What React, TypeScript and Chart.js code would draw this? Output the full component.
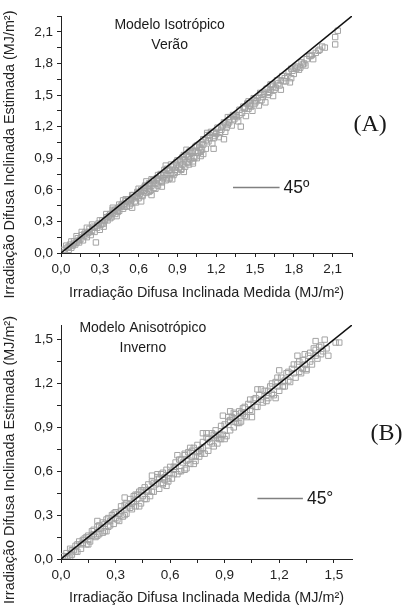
import React, { useEffect, useRef } from "react";
import { Chart, registerables } from "chart.js";

Chart.register(...registerables);

// ---------- DATA ----------
// Panel A: Modelo Isotrópico – Verão (measured x, estimated y), MJ/m²
const measuredA = [
  0.02, 0.03, 0.05, 0.06, 0.07, 0.08, 0.09, 0.10, 0.11, 0.12,
  0.13, 0.14, 0.15, 0.16, 0.17, 0.18, 0.19, 0.20, 0.21, 0.22,
  0.23, 0.24, 0.25, 0.26, 0.27, 0.28, 0.29, 0.30, 0.31, 0.32,
  0.33, 0.34, 0.35, 0.36, 0.37, 0.38, 0.39, 0.40, 0.41, 0.42,
  0.43, 0.44, 0.45, 0.46, 0.47, 0.48, 0.49, 0.50, 0.51, 0.52,
  0.53, 0.54, 0.55, 0.56, 0.57, 0.58, 0.59, 0.60, 0.61, 0.62,
  0.63, 0.64, 0.65, 0.66, 0.67, 0.68, 0.69, 0.70, 0.71, 0.72,
  0.73, 0.74, 0.75, 0.76, 0.77, 0.78, 0.79, 0.80, 0.81, 0.82,
  0.83, 0.84, 0.85, 0.86, 0.87, 0.88, 0.89, 0.90, 0.91, 0.92,
  0.93, 0.94, 0.95, 0.96, 0.97, 0.98, 0.99, 1.00, 1.01, 1.02,
  1.03, 1.04, 1.05, 1.06, 1.07, 1.08, 1.09, 1.10, 1.12, 1.14,
  1.15, 1.17, 1.19, 1.20, 1.22, 1.24, 1.25, 1.27, 1.29, 1.30,
  1.32, 1.34, 1.35, 1.37, 1.39, 1.40, 1.42, 1.43, 1.45, 1.46,
  1.48, 1.50, 1.52, 1.53, 1.55, 1.57, 1.58, 1.60, 1.62, 1.64,
  1.66, 1.68, 1.70, 1.72, 1.75, 1.77, 1.80, 1.82, 1.85, 1.88,
  1.90, 1.93, 1.97, 2.00, 2.04, 2.12, 2.12, 2.14, 0.04, 0.08,
  0.12, 0.16, 0.20, 0.24, 0.30, 0.35, 0.40, 0.45, 0.50, 0.55,
  0.60, 0.65, 0.70, 0.75, 0.80, 0.85, 0.90, 0.95, 1.00, 1.05,
  1.10, 1.13, 1.16, 1.18, 1.21, 1.23, 1.26, 1.28, 1.31, 1.33,
  1.36, 1.38, 1.41, 1.44, 1.47, 1.49, 1.51, 1.54, 1.56, 1.59,
  1.61, 1.63, 1.65, 1.67, 1.69, 1.71, 1.74, 1.76, 1.78, 1.81,
  1.84, 1.86, 1.89, 1.92, 1.95, 1.99, 0.33, 0.43, 0.53, 0.63,
  0.73, 0.83, 0.93, 1.03, 0.58, 0.68, 0.78, 0.88, 0.98, 1.08,
  0.06, 0.10, 0.14, 0.18, 0.22, 0.26, 0.28, 0.32, 0.36, 0.38,
  0.42, 0.44, 0.47, 0.49, 0.52, 0.54, 0.57, 0.59, 0.62, 0.64,
  0.67, 0.69, 0.72, 0.74, 0.77, 0.79, 0.82, 0.84, 0.87, 0.89,
  0.92, 0.94, 0.97, 0.99, 1.02, 1.04, 1.07, 1.09, 1.12, 1.15,
  1.18, 1.20, 1.24, 1.27, 1.30, 1.34, 1.38, 1.42, 1.46, 1.50,
  1.55, 1.60, 1.64, 1.70, 1.73, 1.79, 1.83, 1.87, 1.94, 2.02,
  0.55, 0.62, 0.70, 0.78, 0.86, 0.95, 1.02, 1.10, 1.18, 1.26,
  0.40, 0.48, 0.66, 0.81, 0.97, 1.13, 1.29, 1.45, 1.62, 1.78,
];
const estimatedA = [
  0.03, 0.01, 0.05, 0.03, 0.08, 0.05, 0.07, 0.11, 0.08, 0.10,
  0.14, 0.10, 0.13, 0.17, 0.12, 0.16, 0.20, 0.15, 0.19, 0.23,
  0.17, 0.21, 0.25, 0.20, 0.10, 0.24, 0.28, 0.22, 0.27, 0.31,
  0.28, 0.31, 0.34, 0.31, 0.35, 0.37, 0.34, 0.38, 0.40, 0.37,
  0.40, 0.43, 0.40, 0.44, 0.46, 0.42, 0.47, 0.49, 0.44, 0.49,
  0.51, 0.47, 0.51, 0.55, 0.49, 0.54, 0.57, 0.52, 0.56, 0.60,
  0.54, 0.59, 0.62, 0.57, 0.61, 0.66, 0.59, 0.64, 0.69, 0.62,
  0.66, 0.71, 0.64, 0.68, 0.74, 0.67, 0.71, 0.76, 0.69, 0.74,
  0.78, 0.71, 0.76, 0.82, 0.74, 0.79, 0.84, 0.77, 0.81, 0.87,
  0.79, 0.84, 0.89, 0.82, 0.86, 0.92, 0.84, 0.89, 0.95, 0.87,
  0.91, 0.97, 0.90, 0.95, 1.00, 0.92, 0.98, 1.03, 0.99, 1.06,
  1.09, 1.04, 1.11, 1.15, 1.10, 1.17, 1.21, 1.15, 1.22, 1.26,
  1.21, 1.27, 1.31, 1.25, 1.20, 1.33, 1.38, 1.30, 1.37, 1.42,
  1.35, 1.42, 1.47, 1.40, 1.45, 1.51, 1.43, 1.50, 1.55, 1.49,
  1.57, 1.61, 1.55, 1.63, 1.68, 1.62, 1.70, 1.75, 1.76, 1.80,
  1.84, 1.87, 1.90, 1.93, 1.95, 1.98, 2.05, 2.11, 0.07, 0.11,
  0.16, 0.20, 0.24, 0.27, 0.31, 0.37, 0.41, 0.46, 0.51, 0.55,
  0.61, 0.64, 0.70, 0.74, 0.79, 0.84, 0.88, 0.93, 0.97, 1.02,
  1.08, 1.12, 1.15, 1.09, 1.19, 1.14, 1.24, 1.19, 1.29, 1.31,
  1.29, 1.36, 1.39, 1.42, 1.39, 1.47, 1.44, 1.52, 1.48, 1.56,
  1.52, 1.60, 1.55, 1.64, 1.59, 1.68, 1.63, 1.72, 1.66, 1.76,
  1.74, 1.81, 1.78, 1.87, 1.84, 1.92, 0.25, 0.35, 0.45, 0.55,
  0.61, 0.70, 0.80, 0.90, 0.48, 0.58, 0.68, 0.76, 0.86, 0.96,
  0.06, 0.09, 0.12, 0.18, 0.20, 0.24, 0.26, 0.28, 0.34, 0.33,
  0.41, 0.39, 0.45, 0.44, 0.51, 0.50, 0.53, 0.58, 0.58, 0.62,
  0.64, 0.66, 0.69, 0.70, 0.75, 0.74, 0.80, 0.79, 0.83, 0.86,
  0.88, 0.91, 0.93, 0.96, 0.97, 1.01, 1.03, 1.05, 1.07, 1.12,
  1.14, 1.13, 1.20, 1.23, 1.24, 1.30, 1.31, 1.37, 1.40, 1.45,
  1.50, 1.53, 1.58, 1.64, 1.66, 1.73, 1.77, 1.79, 1.88, 1.96,
  0.43, 0.49, 0.55, 0.63, 0.70, 0.77, 0.85, 0.94, 0.99, 1.08,
  0.43, 0.50, 0.68, 0.83, 0.98, 1.14, 1.29, 1.44, 1.60, 1.75,
];

// Panel B: Modelo Anisotrópico – Inverno (measured x, estimated y), MJ/m²
const measuredB = [
  0.01, 0.02, 0.03, 0.04, 0.05, 0.06, 0.07, 0.08, 0.09, 0.10,
  0.11, 0.12, 0.13, 0.14, 0.15, 0.16, 0.17, 0.18, 0.19, 0.20,
  0.21, 0.22, 0.23, 0.24, 0.25, 0.26, 0.27, 0.28, 0.29, 0.30,
  0.31, 0.32, 0.33, 0.34, 0.35, 0.36, 0.37, 0.38, 0.39, 0.40,
  0.41, 0.42, 0.43, 0.44, 0.45, 0.46, 0.47, 0.48, 0.49, 0.50,
  0.51, 0.52, 0.53, 0.54, 0.55, 0.56, 0.57, 0.58, 0.59, 0.60,
  0.61, 0.62, 0.63, 0.64, 0.65, 0.66, 0.67, 0.68, 0.69, 0.70,
  0.71, 0.72, 0.73, 0.74, 0.75, 0.76, 0.77, 0.78, 0.79, 0.80,
  0.81, 0.82, 0.83, 0.84, 0.85, 0.86, 0.87, 0.88, 0.89, 0.90,
  0.91, 0.92, 0.93, 0.94, 0.95, 0.96, 0.97, 0.98, 0.99, 1.00,
  1.02, 1.03, 1.05, 1.06, 1.08, 1.09, 1.11, 1.12, 1.14, 1.15,
  1.17, 1.18, 1.20, 1.21, 1.23, 1.24, 1.26, 1.27, 1.29, 1.30,
  1.32, 1.33, 1.35, 1.36, 1.38, 1.39, 1.41, 1.42, 1.44, 1.45,
  1.47, 1.51, 1.53, 0.03, 0.06, 0.09, 0.12, 0.15, 0.18, 0.21,
  0.24, 0.27, 0.30, 0.33, 0.36, 0.39, 0.42, 0.45, 0.48, 0.51,
  0.54, 0.57, 0.60, 0.63, 0.66, 0.69, 0.72, 0.75, 0.78, 0.81,
  0.84, 0.87, 0.90, 0.93, 0.96, 0.99, 1.01, 1.04, 1.07, 1.10,
  1.13, 1.16, 1.19, 1.22, 1.25, 1.28, 1.31, 1.34, 1.37, 1.40,
  1.43, 1.46, 0.05, 0.08, 0.11, 0.14, 0.17, 0.20, 0.23, 0.26,
  0.29, 0.32, 0.35, 0.38, 0.41, 0.44, 0.47, 0.50, 0.53, 0.56,
  0.59, 0.62, 0.65, 0.68, 0.71, 0.74, 0.77, 0.80, 0.83, 0.86,
  0.89, 0.92, 0.95, 0.98, 1.01, 1.04, 1.07, 1.10, 1.13, 1.16,
  1.19, 1.22, 1.25, 1.28, 1.31, 1.34, 1.37, 1.40, 1.43, 0.40,
  0.56, 0.70, 0.76, 0.85, 0.88, 1.00, 1.14, 1.23, 1.33, 0.46,
  0.62, 0.96, 0.20, 0.35, 0.50, 0.64, 0.78, 0.93, 1.08, 1.20,
  1.30, 1.40, 0.25, 0.43, 0.58, 0.73, 0.90, 1.05, 1.18, 1.35,
  0.15, 0.68,
];
const estimatedB = [
  0.02, 0.00, 0.04, 0.02, 0.07, 0.03, 0.06, 0.09, 0.05, 0.12,
  0.07, 0.11, 0.14, 0.10, 0.16, 0.12, 0.16, 0.20, 0.15, 0.22,
  0.17, 0.21, 0.25, 0.19, 0.27, 0.22, 0.26, 0.30, 0.24, 0.32,
  0.27, 0.31, 0.36, 0.29, 0.37, 0.31, 0.36, 0.41, 0.34, 0.43,
  0.36, 0.41, 0.46, 0.38, 0.47, 0.41, 0.46, 0.51, 0.43, 0.53,
  0.46, 0.51, 0.56, 0.48, 0.58, 0.51, 0.56, 0.61, 0.53, 0.63,
  0.55, 0.61, 0.66, 0.58, 0.68, 0.60, 0.66, 0.71, 0.62, 0.73,
  0.65, 0.70, 0.76, 0.67, 0.78, 0.70, 0.75, 0.80, 0.72, 0.83,
  0.74, 0.80, 0.86, 0.77, 0.88, 0.79, 0.85, 0.91, 0.98, 0.88,
  0.84, 0.94, 0.88, 0.97, 0.90, 0.99, 0.93, 1.01, 0.94, 1.03,
  0.97, 1.06, 1.01, 1.09, 1.04, 1.12, 1.07, 1.15, 1.10, 1.18,
  1.12, 1.21, 1.15, 1.24, 1.18, 1.27, 1.21, 1.30, 1.24, 1.33,
  1.27, 1.36, 1.30, 1.39, 1.33, 1.44, 1.37, 1.45, 1.42, 1.50,
  1.39, 1.48, 1.48, 0.01, 0.06, 0.10, 0.13, 0.13, 0.17, 0.23,
  0.24, 0.23, 0.28, 0.33, 0.38, 0.38, 0.44, 0.43, 0.47, 0.52,
  0.55, 0.54, 0.59, 0.63, 0.68, 0.67, 0.74, 0.73, 0.76, 0.82,
  0.85, 0.82, 0.92, 0.95, 0.94, 1.00, 1.04, 1.02, 1.10, 1.09,
  1.12, 1.20, 1.18, 1.21, 1.28, 1.27, 1.35, 1.33, 1.41, 1.39,
  1.40, 1.44, 0.01, 0.05, 0.10, 0.15, 0.19, 0.16, 0.18, 0.28,
  0.31, 0.26, 0.30, 0.35, 0.44, 0.47, 0.41, 0.46, 0.58, 0.59,
  0.55, 0.58, 0.60, 0.72, 0.76, 0.70, 0.72, 0.86, 0.79, 0.83,
  0.85, 0.97, 1.00, 0.93, 0.98, 1.09, 1.04, 1.16, 1.08, 1.13,
  1.24, 1.18, 1.22, 1.33, 1.28, 1.40, 1.35, 1.43, 1.46, 0.39,
  0.52, 0.68, 0.74, 0.84, 0.82, 0.99, 1.15, 1.22, 1.30, 0.49,
  0.63, 0.96, 0.26, 0.42, 0.57, 0.71, 0.86, 1.01, 1.16, 1.29,
  1.39, 1.49, 0.19, 0.36, 0.50, 0.65, 0.82, 0.97, 1.10, 1.29,
  0.10, 0.61,
];

const ticksA = [0, 0.15, 0.3, 0.45, 0.6, 0.75, 0.9, 1.05, 1.2, 1.35, 1.5, 1.65, 1.8, 1.95, 2.1, 2.25];
const ticksB = [0, 0.15, 0.3, 0.45, 0.6, 0.75, 0.9, 1.05, 1.2, 1.35, 1.5];
const maxA = 2.25;
const maxB = 1.6;

const xTitle = "Irradiação Difusa Inclinada Medida (MJ/m²)";
const yTitle = "Irradiação Difusa Inclinada Estimada (MJ/m²)";

const titleLinesA = ["Modelo Isotrópico", "Verão"];
const titleLinesB = ["Modelo Anisotrópico", "Inverno"];
const panelLabelA = "(A)";
const panelLabelB = "(B)";
const legendTextA = "45º";
const legendTextB = "45°";

// ---------- COMPONENT ----------
type Annot = {
  titleLines: string[];
  titleX: number;
  titleY: number[];
  label: string;
  labelX: number;
  labelY: number;
  legendText: string;
  legendX0: number;
  legendX1: number;
  legendY: number;
  yTitleCenter: number; // pixel offset from chart-area centre
  xTitleY: number; // canvas pixel y
};

const SANS = "Arial, 'Liberation Sans', Helvetica, sans-serif";
const SERIF = "'Times New Roman', 'Liberation Serif', serif";

function Panel(props: {
  top: number;
  xs: number[];
  ys: number[];
  ticks: number[];
  max: number;
  padTop: number;
  xAxisHeight: number;
  annot: Annot;
}) {
  const ref = useRef<HTMLCanvasElement>(null);
  useEffect(() => {
    const { xs, ys, ticks, max, padTop, xAxisHeight, annot } = props;
    const n = Math.min(xs.length, ys.length);
    const pts = [] as { x: number; y: number }[];
    for (let i = 0; i < n; i++) pts.push({ x: xs[i], y: ys[i] });

    const label = (v: any) => {
      const k = Math.round(Number(v) / 0.15);
      return k % 2 === 0 ? Number(v).toFixed(1).replace(".", ",") : "";
    };

    const annotPlugin = {
      id: "annot",
      afterDraw(chart: any) {
        const ctx = chart.ctx;
        const sx = chart.scales.x;
        const sy = chart.scales.y;
        const area = chart.chartArea;
        ctx.save();
        ctx.fillStyle = "#1a1a1a";
        ctx.textAlign = "center";
        ctx.textBaseline = "middle";
        ctx.font = `14px ${SANS}`;
        annot.titleLines.forEach((t, i) => {
          ctx.fillText(t, sx.getPixelForValue(annot.titleX), sy.getPixelForValue(annot.titleY[i]));
        });
        ctx.font = `24px ${SERIF}`;
        ctx.fillText(annot.label, sx.getPixelForValue(annot.labelX), sy.getPixelForValue(annot.labelY));
        // legend sample line
        const ly = Math.round(sy.getPixelForValue(annot.legendY)) + 0.5;
        ctx.strokeStyle = "#808080";
        ctx.lineWidth = 1.5;
        ctx.beginPath();
        ctx.moveTo(sx.getPixelForValue(annot.legendX0), ly);
        ctx.lineTo(sx.getPixelForValue(annot.legendX1), ly);
        ctx.stroke();
        ctx.textAlign = "left";
        ctx.font = `17.5px ${SANS}`;
        ctx.fillText(annot.legendText, sx.getPixelForValue(annot.legendX1) + 4, ly + 1);
        // axis titles
        ctx.fillStyle = "#222";
        ctx.font = `14.4px ${SANS}`;
        ctx.textAlign = "center";
        ctx.fillText(xTitle, (area.left + area.right) / 2, annot.xTitleY);
        ctx.translate(10, (area.top + area.bottom) / 2 + annot.yTitleCenter);
        ctx.rotate(-Math.PI / 2);
        ctx.fillText(yTitle, 0, 0);
        ctx.restore();
      },
    };

    const axisCommon = (isX: boolean) => ({
      type: "linear" as const,
      min: 0,
      max,
      afterBuildTicks: (scale: any) => {
        scale.ticks = ticks.map((v) => ({ value: v }));
      },
      afterFit: (scale: any) => {
        if (isX) scale.height = xAxisHeight;
        else scale.width = 61;
      },
      grid: {
        display: true,
        drawOnChartArea: false,
        drawTicks: true,
        tickLength: 4,
        color: "#222",
        lineWidth: 1,
      },
      border: { display: true, color: "#222", width: 1 },
      ticks: {
        autoSkip: false,
        maxRotation: 0,
        padding: 4,
        color: "#222",
        font: { family: SANS, size: 13.5 },
        callback: label,
      },
      title: { display: false },
    });

    const chart = new Chart(ref.current as HTMLCanvasElement, {
      type: "scatter",
      data: {
        datasets: [
          {
            type: "line",
            data: [
              { x: 0, y: 0 },
              { x: max, y: max },
            ],
            borderColor: "#111",
            borderWidth: 1.5,
            pointRadius: 0,
            showLine: true,
            fill: false,
            order: 0,
          } as any,
          {
            data: pts,
            pointStyle: "rect",
            pointRadius: 3.8,
            pointBorderWidth: 1,
            pointBorderColor: "#a3a3a3",
            pointBackgroundColor: "rgba(0,0,0,0)",
            order: 1,
          } as any,
        ],
      },
      options: {
        responsive: false,
        animation: false,
        devicePixelRatio: 1,
        layout: { padding: { top: padTop, right: 54, left: 0, bottom: 0 } },
        plugins: { legend: { display: false }, tooltip: { enabled: false } },
        scales: {
          x: axisCommon(true) as any,
          y: axisCommon(false) as any,
        },
      },
      plugins: [annotPlugin],
    });
    return () => chart.destroy();
  }, []);
  return (
    <canvas
      ref={ref}
      width={406}
      height={303}
      style={{ position: "absolute", left: 0, top: props.top, width: 406, height: 303 }}
    />
  );
}

export default function App() {
  const annotA: Annot = {
    titleLines: titleLinesA,
    titleX: 0.84,
    titleY: [2.16, 1.97],
    label: panelLabelA,
    labelX: 2.39,
    labelY: 1.22,
    legendText: legendTextA,
    legendX0: 1.33,
    legendX1: 1.69,
    legendY: 0.63,
    yTitleCenter: 20,
    xTitleY: 293,
  };
  const annotB: Annot = {
    titleLines: titleLinesB,
    titleX: 0.45,
    titleY: [1.58, 1.445],
    label: panelLabelB,
    labelX: 1.79,
    labelY: 0.86,
    legendText: legendTextB,
    legendX0: 1.08,
    legendX1: 1.33,
    legendY: 0.42,
    yTitleCenter: 18,
    xTitleY: 295,
  };
  return (
    <div style={{ position: "fixed", left: 0, top: 0, width: 406, height: 606, background: "#fff" }}>
      <Panel top={0} xs={measuredA} ys={estimatedA} ticks={ticksA} max={maxA} padTop={16} xAxisHeight={50} annot={annotA} />
      <Panel top={303} xs={measuredB} ys={estimatedB} ticks={ticksB} max={maxB} padTop={22} xAxisHeight={47} annot={annotB} />
    </div>
  );
}
